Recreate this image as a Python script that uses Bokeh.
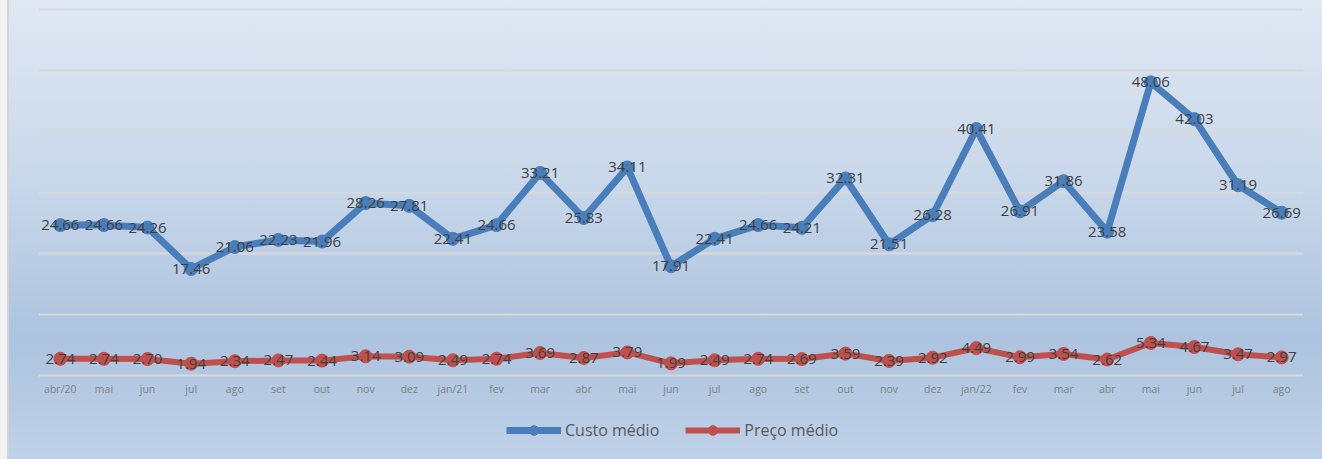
from bokeh.plotting import figure
from bokeh.models import ColumnDataSource, LabelSet, FixedTicker, Range1d, Legend, LegendItem
from bokeh.core.properties import value
from bokeh.embed import file_html
from bokeh.resources import INLINE

months = ["abr/20", "mai", "jun", "jul", "ago", "set", "out", "nov", "dez", "jan/21",
          "fev", "mar", "abr", "mai", "jun", "jul", "ago", "set", "out", "nov", "dez",
          "jan/22", "fev", "mar", "abr", "mai", "jun", "jul", "ago"]
custo = [24.66, 24.66, 24.26, 17.46, 21.06, 22.23, 21.96, 28.26, 27.81, 22.41, 24.66,
         33.21, 25.83, 34.11, 17.91, 22.41, 24.66, 24.21, 32.31, 21.51, 26.28, 40.41,
         26.91, 31.86, 23.58, 48.06, 42.03, 31.19, 26.69]
preco = [2.74, 2.74, 2.70, 1.94, 2.34, 2.47, 2.44, 3.14, 3.09, 2.49, 2.74, 3.69, 2.87,
         3.79, 1.99, 2.49, 2.74, 2.69, 3.59, 2.39, 2.92, 4.49, 2.99, 3.54, 2.62, 5.34,
         4.67, 3.47, 2.97]
y_ticks = [0, 10, 20, 30, 40, 50, 60]

xs = list(range(len(months)))
src = ColumnDataSource(dict(
    x=xs, custo=custo, preco=preco,
    custo_lbl=["%.2f" % v for v in custo],
    preco_lbl=["%.2f" % v for v in preco],
))

BLUE = "#4a7ebb"
RED = "#c0504d"
FONT = "Open Sans"

# layout: 0..60 spans 366px; plot area extends 3px above 60 and 84px below 0
PX = 366 / 60
ymax = 60 + 3 / PX
ymin = -84 / PX

p = figure(width=1322, height=459, output_backend="svg", toolbar_location=None,
           x_range=Range1d(-0.5, len(months) - 0.5), y_range=Range1d(ymin, ymax),
           min_border_left=38, min_border_right=19, min_border_top=6, min_border_bottom=0)
p.styles = {"background": "linear-gradient(to bottom, #e0e8f3 0%, #c8d7ea 40%, #adc3df 74%, #bfd1e8 100%)",
            "box-shadow": "inset 7px 0 0 #f2f2f2, inset 9px 0 0 #d4d4d4"}
p.background_fill_color = None
p.border_fill_color = None
p.outline_line_color = None

p.yaxis.visible = False
p.xgrid.visible = False
p.ygrid.ticker = FixedTicker(ticks=y_ticks)
p.ygrid.grid_line_color = "#d9d9d9"
p.ygrid.grid_line_width = 2

ax = p.xaxis[0]
ax.fixed_location = 0
ax.ticker = FixedTicker(ticks=xs)
ax.major_label_overrides = {i: m for i, m in enumerate(months)}
ax.axis_line_color = None
ax.major_tick_line_color = None
ax.minor_tick_line_color = None
ax.major_label_text_font = FONT
ax.major_label_text_font_size = "10.5px"
ax.major_label_text_color = "#7f7f7f"
ax.major_label_standoff = 0

l1 = p.line("x", "custo", source=src, line_color=BLUE, line_width=7, line_join="round")
c1 = p.scatter("x", "custo", source=src, size=13, fill_color=BLUE, line_color=BLUE)
l2 = p.line("x", "preco", source=src, line_color=RED, line_width=6, line_join="round")
c2 = p.scatter("x", "preco", source=src, size=13, fill_color=RED, line_color=RED)

for col, ycol in (("custo_lbl", "custo"), ("preco_lbl", "preco")):
    p.add_layout(LabelSet(x="x", y=ycol, text=col, source=src, text_align="center",
                          text_baseline="middle", text_font=value(FONT), text_font_size=value("15px"),
                          text_color="#404040"))

legend = Legend(items=[LegendItem(label="Custo médio", renderers=[l1, c1]),
                       LegendItem(label="Preço médio", renderers=[l2, c2])],
                orientation="horizontal", location=(468, 17))
legend.background_fill_alpha = 0
legend.border_line_color = None
legend.label_text_font = FONT
legend.label_text_font_size = "16px"
legend.label_text_color = "#595959"
legend.glyph_width = 55
legend.glyph_height = 24
legend.label_standoff = 4
legend.spacing = 26
legend.margin = 0
legend.padding = 4
p.add_layout(legend, "center")

open("out.html", "w").write(file_html(p, INLINE))
